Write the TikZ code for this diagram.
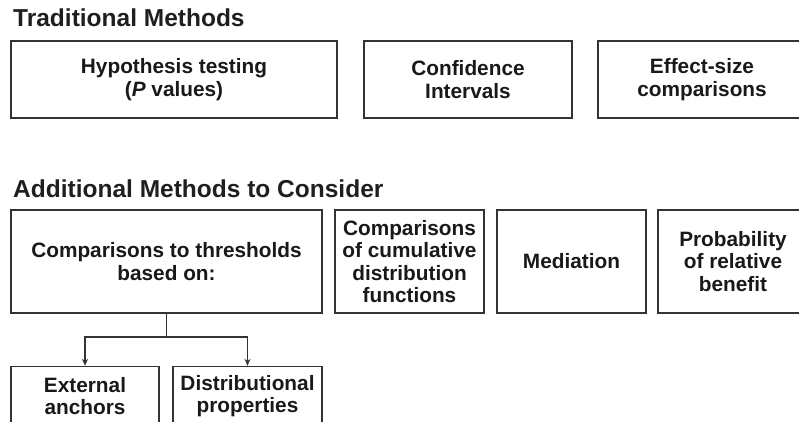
\documentclass[tikz,border=0pt]{standalone}
\usepackage{fontspec}
\setmainfont{Liberation Sans}
\usetikzlibrary{arrows.meta}

\begin{document}
\begin{tikzpicture}[x=1pt,y=1pt,
		heading/.style={anchor=base west,font=\bfseries\fontsize{24.5}{27}\selectfont,text=black!88,inner sep=0pt},
		methodbox/.style={draw=black!80,line width=1.4pt,align=center,inner sep=0pt,text=black!90,
			font=\bfseries\fontsize{20.8}{22.5}\selectfont},
		link/.style={draw=black!80,line width=1.3pt}]
		\useasboundingbox (0,0) rectangle (799,-422);
		\node[heading] (trad) at (13,-27) {Traditional Methods};
		\node[heading] (addl) at (13,-197) {Additional Methods to Consider};
		% traditional row
		\foreach \name / \cx / \w / \txt in {hyp/174/326/{Hypothesis testing\\(\textit{P} values)},
			ci/468/208/{Confidence\\Intervals},
			es/702/208/{Effect-size\\comparisons}}
			{ \node[methodbox,minimum width=\w pt,minimum height=77pt] (\name) at (\cx,-79.5) {\txt};}
		% additional row
		\foreach \name / \cx / \w / \txt in {thr/166.5/311/{Comparisons to thresholds\\based on:},
			cdf/409.5/149/{Comparisons\\of cumulative\\distribution\\functions},
			med/571.5/149/{Mediation},
			prb/733/150/{Probability\\of relative\\benefit}}
			{ \node[methodbox,minimum width=\w pt,minimum height=103pt] (\name) at (\cx,-261.5) {\txt};}
		% threshold types
		\node[methodbox,minimum width=148pt,minimum height=59pt] (ext) at (85,-396) {External\\anchors};
		\node[methodbox,minimum width=149pt,minimum height=59pt] (dist) at (247.5,-396) {Distributional\\properties};
		\coordinate (split) at (166.5,-337);
		\draw[link] (thr.south) -- (split);
		\draw[link,-{Stealth[length=7pt,width=6pt]}] (split) -| (ext.north);
		\draw[link,-{Stealth[length=7pt,width=6pt]}] (split) -| (dist.north);
	\end{tikzpicture}
\end{document}
